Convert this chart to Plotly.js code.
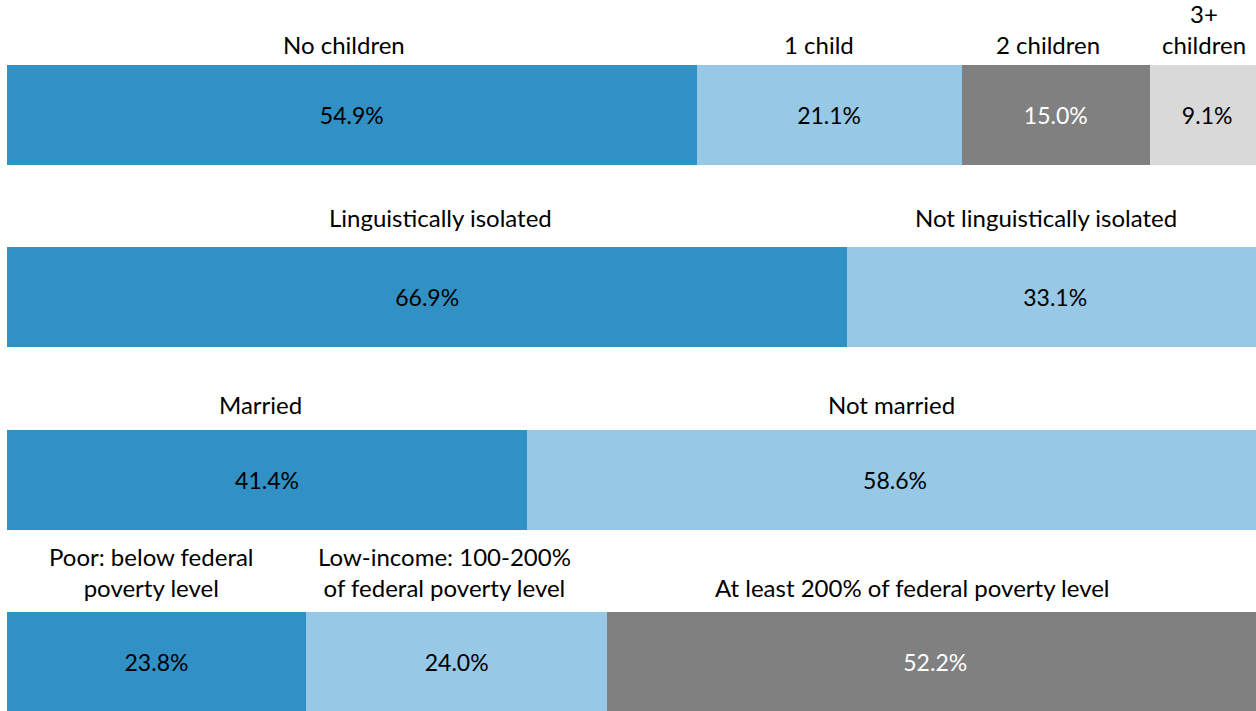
<!DOCTYPE html>
<html>
<head>
<meta charset="utf-8">
<script src="https://cdn.plot.ly/plotly-3.0.1.min.js"></script>
<style>html,body{margin:0;padding:0;background:#fff;}#chart{width:1256px;height:711px;}</style>
</head>
<body>
<div id="chart"></div>
<script>
// Rows (top to bottom)
var rows = [0, 1, 2, 3];
// Segment labels by segment position
var labels0 = ["No children", "Linguistically isolated", "Married", "Poor: below federal<br>poverty level"];
var labels1 = ["1 child", "Not linguistically isolated", "Not married", "Low-income: 100-200%<br>of federal poverty level"];
var labels2 = ["2 children", null, null, "At least 200% of federal poverty level"];
var labels3 = ["3+<br>children", null, null, null];
// Segment values (%) by segment position
var values0 = [54.9, 66.9, 41.4, 23.8];
var values1 = [21.1, 33.1, 58.6, 24.0];
var values2 = [15.0, null, null, 52.2];
var values3 = [9.1, null, null, null];

var segLabels = [labels0, labels1, labels2, labels3];
var segValues = [values0, values1, values2, values3];
var segColors = ["#3190C4", "#97C8E6", "#808080", "#D9D9D9"];
var segTextColors = ["#000000", "#000000", "#ffffff", "#000000"];
// small horizontal nudges (px) of the category labels, per segment position / row
var labelNudge = [[-8, 13, -7, -5], [-10, -9, -4, -12], [-8, 0, 0, -23], [-3, 0, 0, 0]];
var rowLift = [4, 13, 9, 8];

var FONT = "Lato, 'Open Sans', sans-serif";
var barWidth = 0.5485;

var traces = segValues.map(function (vals, j) {
  return {
    type: "bar",
    orientation: "h",
    y: rows,
    x: vals,
    width: barWidth,
    marker: { color: segColors[j], line: { width: 0 } },
    text: vals.map(function (v) { return v == null ? "" : v.toFixed(1) + "%"; }),
    texttemplate: "%{text}",
    textposition: "inside",
    insidetextanchor: "middle",
    constraintext: "none",
    textangle: 0,
    textfont: { family: FONT, size: 23, color: segTextColors[j] },
    hoverinfo: "skip",
    showlegend: false
  };
});

var annotations = [];
rows.forEach(function (r) {
  var cum = 0;
  for (var j = 0; j < segValues.length; j++) {
    var v = segValues[j][r];
    if (v == null) continue;
    annotations.push({
      x: cum + v / 2,
      y: r - barWidth / 2,
      xref: "x",
      yref: "y",
      text: segLabels[j][r],
      showarrow: false,
      xanchor: "center",
      yanchor: "bottom",
      xshift: labelNudge[j][r],
      yshift: rowLift[r],
      font: { family: FONT, size: 24, color: "#000000" }
    });
    cum += v;
  }
});

var layout = {
  width: 1256,
  height: 711,
  margin: { l: 7, r: 0, t: 0, b: 0, pad: 0 },
  barmode: "stack",
  paper_bgcolor: "#ffffff",
  plot_bgcolor: "#ffffff",
  xaxis: { range: [0, 99.44], visible: false, fixedrange: true },
  yaxis: { range: [3.269, -0.631], visible: false, fixedrange: true },
  annotations: annotations,
  hovermode: false
};

Plotly.newPlot("chart", traces, layout, { staticPlot: true, displayModeBar: false });
</script>
</body>
</html>
